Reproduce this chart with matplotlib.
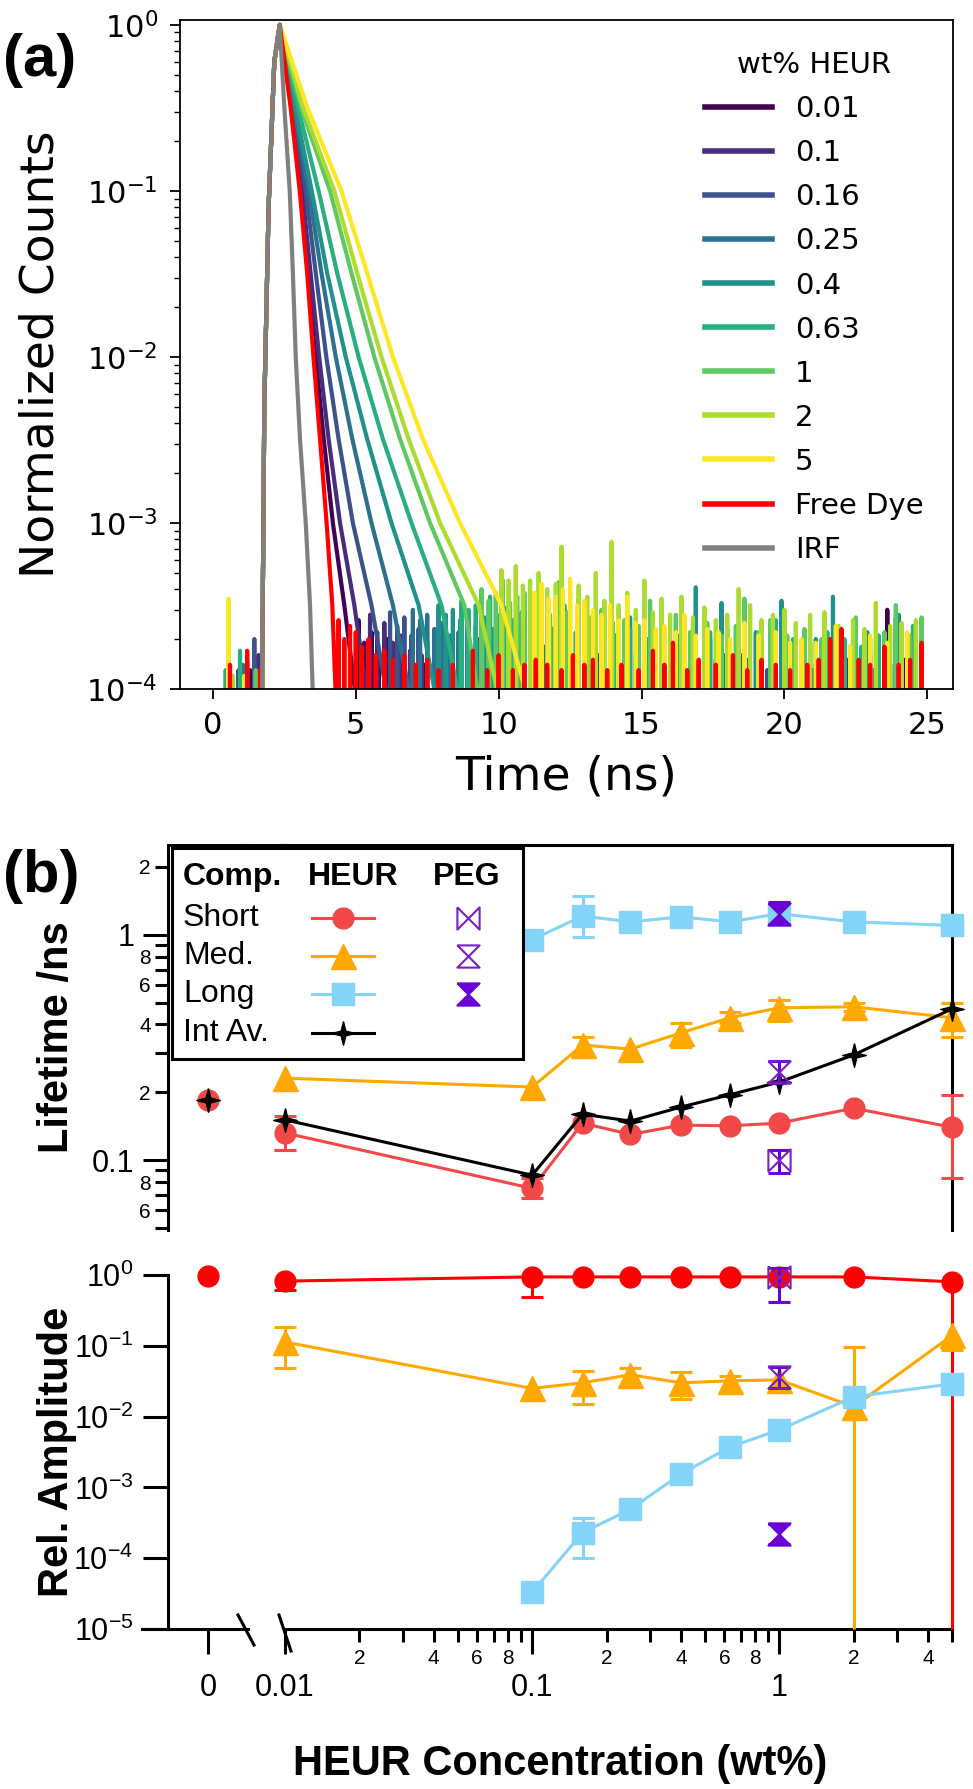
import numpy as np
import matplotlib
matplotlib.use("Agg")
import matplotlib.pyplot as plt
from matplotlib.lines import Line2D
from matplotlib.patches import Rectangle
from matplotlib.path import Path
from matplotlib.ticker import FixedLocator, FixedFormatter, NullLocator

W, H = 973, 1789
plt.rcParams['font.family'] = 'DejaVu Sans'

# ---------------- panel (a): decay traces ----------------
wt_labels = ['0.01', '0.1', '0.16', '0.25', '0.4', '0.63', '1', '2', '5', 'Free Dye', 'IRF']

rise_t = [1.72, 1.80, 1.95, 2.15, 2.34]
rise_y = [9e-5, 5e-3, 0.08, 0.6, 1.0]

# times (ns) at which each trace crosses these levels
decay_levels = [1.0, 0.32, 0.1, 0.032, 0.01, 3.2e-3, 1e-3, 3.2e-4]
decay_t = [
    [2.34, 2.74, 3.08, 3.34, 3.60, 3.88, 4.20, 4.60],
    [2.34, 2.77, 3.13, 3.42, 3.72, 4.05, 4.45, 4.95],
    [2.34, 2.80, 3.25, 3.60, 3.97, 4.40, 4.90, 5.55],
    [2.34, 2.84, 3.36, 3.80, 4.30, 4.88, 5.55, 6.30],
    [2.34, 2.88, 3.46, 4.00, 4.65, 5.40, 6.25, 7.20],
    [2.34, 2.98, 3.70, 4.35, 5.10, 5.95, 6.95, 8.00],
    [2.34, 3.08, 4.10, 4.85, 5.65, 6.55, 7.60, 8.80],
    [2.34, 3.15, 4.25, 5.05, 5.90, 6.85, 7.95, 9.30],
    [2.34, 3.30, 4.50, 5.40, 6.30, 7.35, 8.65, 10.10],
    [2.34, 2.72, 3.04, 3.30, 3.52, 3.75, 3.98, 4.18],
    [2.34, 2.50, 2.69, 2.80, 2.90, 3.05, 3.25, 3.40],
]
floor_t = [5.0, 5.4, 6.1, 6.9, 7.8, 8.6, 9.3, 10.0, 11.0, 4.3, 3.5]

# baseline noise spikes: (time ns, height x 1e-4)
spk_001 = [(1.3, 1.3), (5.1, 2.6), (5.3, 1.9), (5.55, 2.2), (5.8, 1.7), (6.1, 2.0), (6.5, 1.5), (6.9, 1.6),
           (7.4, 1.4), (8.0, 1.5), (8.7, 1.3), (9.6, 1.4), (10.4, 1.3), (11.5, 1.6), (12.7, 1.3), (13.9, 1.5),
           (15.1, 1.3), (16.3, 1.4), (17.6, 1.5), (18.6, 3.3), (19.5, 1.4), (20.3, 1.6), (21.3, 1.4),
           (22.6, 1.3), (23.6, 3.0), (24.2, 1.5)]
spk_010 = [(1.6, 1.6), (5.5, 2.8), (5.75, 2.2), (6.0, 2.5), (6.3, 1.9), (6.6, 2.1), (6.9, 1.7), (7.3, 1.6),
           (7.8, 1.5), (8.4, 1.6), (9.0, 1.4), (9.8, 1.5), (10.5, 1.5), (11.3, 1.3), (12.1, 1.4), (13.2, 1.3),
           (14.8, 1.6), (15.8, 1.3), (16.9, 1.5), (18.1, 1.4), (19.2, 1.5), (20.0, 1.3), (21.0, 1.3),
           (22.2, 1.5), (23.1, 1.3), (23.9, 2.7), (24.6, 1.4)]
spk_016 = [(0.9, 1.3), (1.45, 2.0), (6.2, 2.9), (6.45, 2.4), (6.7, 2.7), (6.95, 2.1), (7.2, 2.3), (7.5, 1.9),
           (7.8, 2.0), (8.2, 1.7), (8.6, 1.8), (9.1, 1.6), (9.6, 1.5), (10.2, 1.7), (10.8, 1.5), (11.4, 2.0),
           (12.0, 1.4), (12.7, 1.5), (13.5, 1.6), (14.4, 1.4), (15.2, 1.5), (16.0, 1.3), (16.8, 1.5),
           (17.7, 1.4), (18.5, 1.6), (19.4, 1.3), (20.2, 1.5), (21.1, 1.4), (22.0, 1.3), (22.8, 1.5),
           (23.7, 1.4), (24.5, 1.6)]
spk_025 = [(1.05, 1.4), (7.0, 3.0), (7.25, 2.6), (7.5, 2.8), (7.75, 2.3), (8.0, 2.5), (8.3, 2.1), (8.6, 2.2),
           (8.9, 1.9), (9.3, 2.0), (9.7, 1.8), (10.1, 1.7), (10.6, 1.9), (11.1, 1.6), (11.6, 1.8), (12.2, 1.5),
           (12.8, 1.7), (13.4, 1.5), (14.1, 2.1), (14.8, 1.6), (15.5, 1.5), (16.3, 1.7), (17.0, 1.5),
           (17.9, 1.6), (18.7, 1.5), (19.6, 1.6), (20.4, 1.4), (21.3, 1.5), (22.1, 1.4), (23.0, 1.6),
           (23.9, 1.4), (24.6, 1.5)]
spk_040 = [(1.2, 1.5), (7.9, 3.2), (8.15, 2.8), (8.4, 3.0), (8.65, 2.6), (8.9, 2.8), (9.2, 2.4), (9.5, 2.7),
           (9.8, 2.3), (10.1, 2.6), (10.5, 2.2), (10.9, 3.0), (11.3, 2.1), (11.8, 2.4), (12.3, 2.8), (12.8, 2.0),
           (13.3, 2.2), (13.9, 1.9), (14.6, 2.7), (15.2, 2.0), (15.8, 1.8), (16.4, 2.1), (16.9, 4.1),
           (17.4, 2.0), (17.8, 3.3), (18.4, 1.8), (19.0, 2.2), (19.9, 3.4), (20.6, 1.9), (21.1, 2.0),
           (21.7, 3.6), (22.3, 1.8), (22.9, 2.2), (23.5, 1.9), (24.0, 2.8), (24.6, 2.0)]
spk_063 = [(0.45, 1.3), (0.95, 1.7), (8.7, 3.4), (8.95, 3.0), (9.2, 3.2), (9.45, 2.7), (9.7, 3.6), (9.95, 2.8),
           (10.2, 3.1), (10.5, 2.6), (10.8, 2.9), (11.1, 2.4), (11.5, 2.7), (11.9, 2.3), (12.3, 3.2),
           (12.7, 2.2), (13.1, 2.5), (13.6, 2.8), (14.1, 2.1), (14.6, 2.3), (15.2, 2.0), (15.7, 2.5),
           (16.3, 2.1), (16.8, 2.0), (17.4, 2.2), (18.0, 2.3), (18.6, 1.9), (19.2, 2.1), (19.7, 2.6),
           (20.3, 2.0), (20.9, 1.9), (21.5, 2.2), (22.1, 2.0), (22.7, 1.8), (23.3, 2.1), (23.9, 2.0), (24.5, 2.4)]
spk_1 = [(1.5, 1.3), (9.4, 4.0), (9.65, 3.4), (9.9, 3.8), (10.15, 4.5), (10.4, 3.3), (10.65, 3.6), (10.9, 3.8),
         (11.2, 3.0), (11.5, 3.2), (11.8, 2.8), (12.1, 4.4), (12.4, 2.9), (12.8, 3.5), (13.2, 2.7), (13.6, 3.0),
         (14.0, 2.5), (14.4, 2.6), (14.9, 2.4), (15.3, 3.4), (15.8, 2.3), (16.2, 2.8), (16.7, 2.2), (17.3, 2.5),
         (17.8, 2.1), (18.3, 2.4), (18.6, 3.5), (19.1, 2.2), (19.5, 2.6), (20.1, 2.1), (20.7, 2.3), (21.3, 2.0),
         (21.9, 2.2), (22.5, 2.7), (23.0, 2.0), (23.5, 2.2), (23.9, 3.2), (24.4, 2.1), (24.8, 2.7)]
spk_2 = [(0.7, 1.2), (10.1, 5.2), (10.35, 4.5), (10.6, 5.5), (10.85, 4.2), (11.1, 4.5), (11.4, 5.0), (11.7, 4.0),
         (12.0, 4.3), (12.2, 7.2), (12.5, 3.8), (12.8, 4.2), (13.1, 3.6), (13.4, 5.0), (13.7, 3.4), (13.95, 7.7),
         (14.2, 3.2), (14.5, 3.8), (14.8, 3.0), (15.1, 4.5), (15.4, 2.9), (15.7, 3.5), (16.0, 2.8), (16.4, 3.6),
         (16.8, 2.7), (17.2, 3.1), (17.6, 2.6), (18.0, 2.8), (18.4, 4.0), (18.8, 3.2), (19.2, 2.6), (19.6, 2.8),
         (20.0, 3.0), (20.4, 2.5), (20.9, 2.8), (21.4, 2.9), (21.9, 2.4), (22.4, 2.6), (22.8, 2.3), (23.2, 3.3),
         (23.7, 2.4), (24.1, 2.5), (24.6, 2.6)]
spk_5 = [(0.55, 3.5), (1.1, 1.2), (10.6, 5.0), (10.8, 4.2), (11.0, 4.6), (11.25, 3.8), (11.5, 4.3), (11.75, 3.5),
         (12.0, 3.6), (12.25, 4.0), (12.5, 4.6), (12.75, 3.2), (13.0, 3.4), (13.3, 3.0), (13.6, 2.8), (13.9, 3.2),
         (14.2, 2.6), (14.5, 3.6), (14.8, 2.5), (15.1, 2.6), (15.5, 2.3), (15.8, 2.4), (16.2, 2.2), (16.5, 2.8),
         (16.9, 2.1), (17.3, 2.3), (17.7, 2.2), (18.1, 2.0), (18.6, 2.5), (19.1, 2.1), (19.7, 2.2), (20.2, 1.9),
         (20.6, 2.0), (21.1, 1.9), (21.8, 2.4), (22.3, 1.8), (23.0, 2.1), (23.6, 1.9), (24.3, 2.2)]
spk_free = [(0.6, 1.4), (1.2, 1.7), (1.65, 1.3), (4.4, 2.6), (4.6, 2.0), (4.8, 2.4), (5.0, 2.2), (5.2, 1.8),
            (5.45, 2.0), (5.7, 1.6), (6.0, 1.7), (6.3, 1.5), (6.7, 1.6), (7.1, 1.4), (7.5, 1.5), (7.9, 1.3),
            (8.4, 1.4), (9.1, 1.7), (9.6, 1.3), (10.0, 1.6), (10.5, 1.3), (10.9, 1.4), (11.3, 1.5), (11.7, 1.4),
            (12.2, 1.3), (12.6, 1.6), (13.0, 1.4), (13.3, 1.5), (13.8, 1.3), (14.3, 1.4), (14.9, 1.3),
            (15.4, 1.7), (15.8, 1.4), (16.1, 1.9), (16.6, 1.3), (17.0, 1.5), (17.6, 1.4), (18.2, 1.6),
            (18.7, 1.3), (19.2, 1.5), (19.7, 1.4), (20.2, 1.3), (20.8, 1.4), (21.2, 1.5), (21.6, 2.0),
            (22.0, 2.3), (22.6, 1.5), (23.0, 1.4), (23.5, 1.8), (24.0, 1.4), (24.4, 1.5), (24.8, 1.9)]
spk_irf = []
spikes = [spk_001, spk_010, spk_016, spk_025, spk_040, spk_063, spk_1, spk_2, spk_5, spk_free, spk_irf]

# ---------------- panel (b): fitted lifetimes / amplitudes ----------------
conc = [0.01, 0.1, 0.16, 0.25, 0.4, 0.63, 1, 2, 5]
zero_conc = [0.0]
nan = np.nan

tau0_short = [0.185]
tau0_int = [0.185]
amp0_short = [0.97]

tau_short = [0.132, 0.075, 0.146, 0.130, 0.143, 0.142, 0.146, 0.170, 0.140]
tau_short_lo = [0.111, 0.068, nan, nan, nan, nan, nan, nan, 0.083]
tau_short_hi = [0.157, 0.083, nan, nan, nan, nan, nan, nan, 0.195]
tau_med = [0.231, 0.211, 0.324, 0.311, 0.367, 0.428, 0.474, 0.479, 0.428]
tau_med_lo = [nan, nan, 0.287, nan, 0.318, 0.405, 0.415, 0.460, 0.352]
tau_med_hi = [nan, nan, 0.352, nan, 0.406, 0.452, 0.514, 0.500, 0.499]
tau_long = [nan, 0.95, 1.21, 1.14, 1.20, 1.14, 1.24, 1.14, 1.10]
tau_long_lo = [nan, nan, 0.98, nan, nan, nan, nan, nan, nan]
tau_long_hi = [nan, nan, 1.48, nan, nan, nan, nan, nan, nan]
tau_int = [0.151, 0.0858, 0.160, 0.149, 0.172, 0.195, 0.222, 0.293, 0.469]

amp_short = [0.82, 0.94, 0.94, 0.94, 0.94, 0.94, 0.94, 0.94, 0.80]
amp_short_lo = [0.61, 0.49, nan, nan, nan, nan, nan, nan, 1e-6]
amp_short_hi = [nan] * 9
amp_med = [0.113, 0.025, 0.030, 0.039, 0.030, 0.032, 0.033, 0.0138, 0.14]
amp_med_lo = [0.049, nan, 0.015, 0.027, 0.018, nan, nan, 1e-6, 0.087]
amp_med_hi = [0.185, nan, 0.044, 0.049, 0.043, 0.038, nan, 0.096, nan]
amp_long = [nan, 3.3e-5, 2.3e-4, 4.9e-4, 1.55e-3, 3.7e-3, 6.5e-3, 0.019, 0.029]
amp_long_lo = [nan, nan, 1.0e-4, nan, nan, nan, nan, nan, nan]
amp_long_hi = [nan, nan, 3.7e-4, nan, nan, nan, nan, nan, nan]

peg_conc = [1.0]
peg_tau = [0.100, 0.245, 1.24]          # short, med, long
peg_tau_lo = [0.0875, 0.222, 1.11]
peg_tau_hi = [0.111, 0.275, 1.39]
peg_amp = [0.94, 0.036, 2.2e-4]
peg_amp_lo = [0.41, 0.025, 1.6e-4]
peg_amp_hi = [1.25, 0.050, 3.0e-4]

comp_names = ['Short', 'Med.', 'Long', 'Int Av.']

# ---------------- styles ----------------
C_SHORT_LT = '#F24848'
C_SHORT_AMP = '#FF0000'
C_MED = '#FFA800'
C_LONG = '#84D3F8'
C_INT = 'black'
C_PEG = '#6B00D6'
C_PEG_EDGE = '#7A20C0'
LW = 2.2
ARIAL = 'Liberation Sans'

STAR4 = Path([(0, 1), (0.2, 0.2), (1, 0), (0.2, -0.2), (0, -1), (-0.2, -0.2), (-1, 0), (-0.2, 0.2), (0, 1)])
BOWTIE = Path([(-1, 1), (-1, -1), (1, 1), (1, -1), (-1, 1)])
HOURGLASS = Path([(-1, 1), (1, 1), (-1, -1), (1, -1), (-1, 1)])


def add_axes_px(l, t, r, b, **kw):
    return fig.add_axes([l / W, 1 - b / H, (r - l) / W, (b - t) / H], **kw)


def fpx(x, y):
    return x / W, 1 - y / H


def trace(k):
    sp = np.array(spikes[k], float).reshape(-1, 2)
    ts, ys = sp[:, 0], sp[:, 1] * 1e-4
    t, y = [], []
    pre = ts < rise_t[0]
    for st, sy in zip(ts[pre], ys[pre]):
        t += [st - 0.04, st, st + 0.04]
        y += [0, sy, 0]
    t += rise_t + decay_t[k] + [floor_t[k]]
    y += rise_y + decay_levels + [9e-5]
    post = ts > floor_t[k]
    for st, sy in zip(ts[post], ys[post]):
        t += [st - 0.04, st, st + 0.04]
        y += [0, sy, 0]
    return t, y


def draw_err(ax, x, y, lo, hi, color, z):
    # bars that run past the bottom of the axis are cut there and get no cap
    x = np.asarray(x, float)
    y = np.asarray(y, float)
    ymin = ax.get_ylim()[0]
    for bound in (np.asarray(lo, float), np.asarray(hi, float)):
        m = np.isfinite(bound) & np.isfinite(y)
        if not m.any():
            continue
        b = np.maximum(bound[m], ymin)
        ax.vlines(x[m], np.minimum(b, y[m]), np.maximum(b, y[m]),
                  colors=color, lw=LW, zorder=z, clip_on=False)
        c = bound[m] >= ymin
        ax.plot(x[m][c], bound[m][c], ls='none', marker='_', ms=16, mew=LW, color=color,
                zorder=z, clip_on=False)


fig = plt.figure(figsize=(W / 100, H / 100), dpi=100)

# ======================= (a) =======================
ax = add_axes_px(180, 20, 953, 689)
colors = list(plt.cm.viridis(np.linspace(0, 1, 9))) + ['#FF0000', '#808080']
for k, lab in enumerate(wt_labels):
    t, y = trace(k)
    ax.plot(t, y, color=colors[k], lw=3.0, label=lab)
ax.set_yscale('log')
ax.set_ylim(1e-4, 1.07)
ax.set_xlim(-1.15, 25.9)
ax.set_xticks([0, 5, 10, 15, 20, 25])
ax.tick_params(which='major', labelsize=22, length=7, width=1.3, pad=9)
ax.tick_params(which='minor', length=4, width=1.0)
for s in ax.spines.values():
    s.set_linewidth(1.3)
ax.set_xlabel('Time (ns)', fontsize=34, labelpad=10)
ax.set_ylabel('Normalized Counts', fontsize=34)
ax.yaxis.set_label_coords((64 - 180) / 773, 0.5)
leg = ax.legend(title='wt% HEUR', fontsize=21, title_fontsize=21, frameon=False,
                loc='upper left', bbox_to_anchor=(0.66, 0.975), borderpad=0,
                handlelength=2.3, handletextpad=0.8, labelspacing=0.55)
for ln in leg.get_lines():
    ln.set_linewidth(4)
fig.text(40 / W, 1 - 60 / H, '(a)', fontsize=43, fontweight='bold', family=ARIAL,
         ha='center', va='center')

# ======================= (b) =======================
lt0 = add_axes_px(168, 845, 248, 1230)
lt1 = add_axes_px(285, 845, 952, 1230, sharey=lt0)
am0 = add_axes_px(168, 1275, 248, 1629)
am1 = add_axes_px(285, 1275, 952, 1629, sharey=am0)

for a in (lt0, am0):
    a.set_xlim(-1, 1)
for a in (lt1, am1):
    a.set_xscale('log')
    a.set_xlim(0.01, 5)
lt0.set_yscale('log')
lt0.set_ylim(0.049, 2.5)
am0.set_yscale('log')
am0.set_ylim(1e-5, 1)

for a in (lt0, lt1, am0, am1):
    for s in a.spines.values():
        s.set_linewidth(LW)
lt0.spines[['right', 'bottom']].set_visible(False)
lt1.spines[['left', 'bottom']].set_visible(False)
am0.spines[['right', 'top']].set_visible(False)
am1.spines[['left', 'right', 'top']].set_visible(False)

# ---- lifetime panel data ----
lt0.plot(zero_conc, tau0_short, ls='none', marker='o', ms=15, color=C_SHORT_LT, zorder=3, clip_on=False)
lt0.plot(zero_conc, tau0_int, ls='none', marker=STAR4, ms=17, color=C_INT, zorder=4, clip_on=False)

draw_err(lt1, conc, tau_short, tau_short_lo, tau_short_hi, C_SHORT_LT, 3)
lt1.plot(conc, tau_short, color=C_SHORT_LT, lw=LW, marker='o', ms=15, zorder=3, clip_on=False)
draw_err(lt1, conc, tau_med, tau_med_lo, tau_med_hi, C_MED, 3.1)
lt1.plot(conc, tau_med, color=C_MED, lw=LW, marker='^', ms=18, zorder=3.1, clip_on=False)
draw_err(lt1, conc, tau_long, tau_long_lo, tau_long_hi, C_LONG, 3.2)
lt1.plot(conc, tau_long, color=C_LONG, lw=LW, marker='s', ms=16, zorder=3.2, clip_on=False)
lt1.plot(conc, tau_int, color=C_INT, lw=LW, marker=STAR4, ms=17, zorder=3.3, clip_on=False)

peg_styles = [dict(marker=BOWTIE, mfc='none', mec=C_PEG_EDGE, mew=1.5),
              dict(marker=HOURGLASS, mfc='none', mec=C_PEG_EDGE, mew=1.5),
              dict(marker=HOURGLASS, mfc=C_PEG, mec=C_PEG, mew=1.5)]
for i, st in enumerate(peg_styles):
    draw_err(lt1, peg_conc, [peg_tau[i]], [peg_tau_lo[i]], [peg_tau_hi[i]], C_PEG, 3.4)
    lt1.plot(peg_conc, [peg_tau[i]], ls='none', ms=16, zorder=3.5, clip_on=False, **st)
    draw_err(am1, peg_conc, [peg_amp[i]], [peg_amp_lo[i]], [peg_amp_hi[i]], C_PEG, 3.4)
    am1.plot(peg_conc, [peg_amp[i]], ls='none', ms=16, zorder=3.5, clip_on=False, **st)

# ---- amplitude panel data ----
am0.plot(zero_conc, amp0_short, ls='none', marker='o', ms=15, color=C_SHORT_AMP, zorder=3, clip_on=False)
draw_err(am1, conc, amp_short, amp_short_lo, amp_short_hi, C_SHORT_AMP, 3)
am1.plot(conc, amp_short, color=C_SHORT_AMP, lw=LW, marker='o', ms=15, zorder=3, clip_on=False)
draw_err(am1, conc, amp_med, amp_med_lo, amp_med_hi, C_MED, 3.1)
am1.plot(conc, amp_med, color=C_MED, lw=LW, marker='^', ms=18, zorder=3.1, clip_on=False)
draw_err(am1, conc, amp_long, amp_long_lo, amp_long_hi, C_LONG, 3.2)
am1.plot(conc, amp_long, color=C_LONG, lw=LW, marker='s', ms=16, zorder=3.2, clip_on=False)

# ---- ticks ----
lt0.yaxis.set_major_locator(FixedLocator([0.1, 1]))
lt0.yaxis.set_major_formatter(FixedFormatter(['0.1', '1']))
lt_minor = [0.05, 0.06, 0.07, 0.08, 0.09, 0.2, 0.3, 0.4, 0.5, 0.6, 0.7, 0.8, 0.9, 2]
lt_minor_lbl = ['', '6', '', '8', '', '2', '', '4', '', '6', '', '8', '', '2']
lt0.yaxis.set_minor_locator(FixedLocator(lt_minor))
lt0.yaxis.set_minor_formatter(FixedFormatter(lt_minor_lbl))
lt0.tick_params(axis='y', which='major', length=18, width=LW, pad=6, labelsize=22,
                labelfontfamily=ARIAL)
lt0.tick_params(axis='y', which='minor', length=9.5, width=LW, pad=3, labelsize=15,
                labelfontfamily=ARIAL)
lt1.tick_params(axis='y', which='both', left=False, labelleft=False)
for a in (lt0, lt1):
    a.tick_params(axis='x', which='both', bottom=False, labelbottom=False)

amp_ticks = [1e-5, 1e-4, 1e-3, 1e-2, 1e-1, 1]
am0.yaxis.set_major_locator(FixedLocator(amp_ticks))
am0.yaxis.set_major_formatter(FixedFormatter(
    [r'$\mathdefault{10^{%d}}$' % e for e in np.log10(amp_ticks).round().astype(int)]))
am0.yaxis.set_minor_locator(NullLocator())
am0.tick_params(axis='y', which='major', length=18, width=LW, pad=7, labelsize=22,
                labelfontfamily=ARIAL)
am1.tick_params(axis='y', which='both', left=False, labelleft=False)

am0.xaxis.set_major_locator(FixedLocator(zero_conc))
am0.xaxis.set_major_formatter(FixedFormatter(['0']))
am0.xaxis.set_minor_locator(NullLocator())
am1.xaxis.set_major_locator(FixedLocator([0.01, 0.1, 1]))
am1.xaxis.set_major_formatter(FixedFormatter(['0.01', '0.1', '1']))
x_minor = [0.02, 0.03, 0.04, 0.05, 0.06, 0.07, 0.08, 0.09,
           0.2, 0.3, 0.4, 0.5, 0.6, 0.7, 0.8, 0.9, 2, 3, 4, 5]
x_minor_lbl = ['2', '', '4', '', '6', '', '8', '', '2', '', '4', '', '6', '', '8', '', '2', '', '4', '']
am1.xaxis.set_minor_locator(FixedLocator(x_minor))
am1.xaxis.set_minor_formatter(FixedFormatter(x_minor_lbl))
for a in (am0, am1):
    a.tick_params(axis='x', which='major', length=18, width=LW, pad=14, labelsize=22,
                  labelfontfamily=ARIAL)
    a.tick_params(axis='x', which='minor', length=9.5, width=LW, pad=5, labelsize=15,
                  labelfontfamily=ARIAL)

# ---- axis labels ----
lt0.set_ylabel('Lifetime /ns', fontsize=30, fontweight='bold', family=ARIAL)
lt0.yaxis.set_label_coords((77 - 168) / 80, 0.5)
am0.set_ylabel('Rel. Amplitude', fontsize=30, fontweight='bold', family=ARIAL)
am0.yaxis.set_label_coords((77 - 168) / 80, 0.5)
am1.set_xlabel('HEUR Concentration (wt%)', fontsize=30, fontweight='bold', family=ARIAL)
am1.xaxis.set_label_coords((560 - 285) / 667, (1629 - 1744) / 354)

# ---- broken axis decorations ----
deco = dict(transform=fig.transFigure, color='black', lw=LW)
fig.add_artist(Line2D([142 / W, 168 / W], [1 - 1629 / H] * 2, **deco))
fig.add_artist(Line2D([238 / W, 254 / W], [1 - 1615 / H, 1 - 1645 / H], **deco))
fig.add_artist(Line2D([279 / W, 291 / W], [1 - 1615 / H, 1 - 1651 / H], **deco))
fig.add_artist(Line2D([248 / W, 285 / W], [1 - 845 / H] * 2, **deco))

fig.text(41 / W, 1 - 877 / H, '(b)', fontsize=43, fontweight='bold', family=ARIAL,
         ha='center', va='center')

# ---- custom legend table for (b) ----
x0, y0 = fpx(172, 1059)
fig.add_artist(Rectangle((x0, y0), (523 - 172) / W, (1059 - 848) / H, transform=fig.transFigure,
                         facecolor='white', edgecolor='black', lw=LW, zorder=5))
for txt, xx in (('Comp.', 183), ('HEUR', 308), ('PEG', 433)):
    fig.text(xx / W, 1 - 877 / H, txt, fontsize=23, fontweight='bold', family=ARIAL,
             ha='left', va='center', zorder=6)
heur_handles = [dict(color=C_SHORT_LT, marker='o', ms=15),
                dict(color=C_MED, marker='^', ms=18),
                dict(color=C_LONG, marker='s', ms=16),
                dict(color=C_INT, marker=STAR4, ms=17)]
row_y = [918, 956, 994, 1033]
for i, name in enumerate(comp_names):
    yy = 1 - row_y[i] / H
    fig.text(183 / W, yy, name, fontsize=23, family=ARIAL, ha='left', va='center', zorder=6)
    fig.add_artist(Line2D([312 / W, 343 / W, 374 / W], [yy] * 3, transform=fig.transFigure,
                          lw=LW, markevery=[1], zorder=6, **heur_handles[i]))
    if i < 3:
        fig.add_artist(Line2D([468 / W], [yy], transform=fig.transFigure, ls='none', ms=16,
                              zorder=6, **peg_styles[i]))

fig.savefig('out.png', dpi=100)
